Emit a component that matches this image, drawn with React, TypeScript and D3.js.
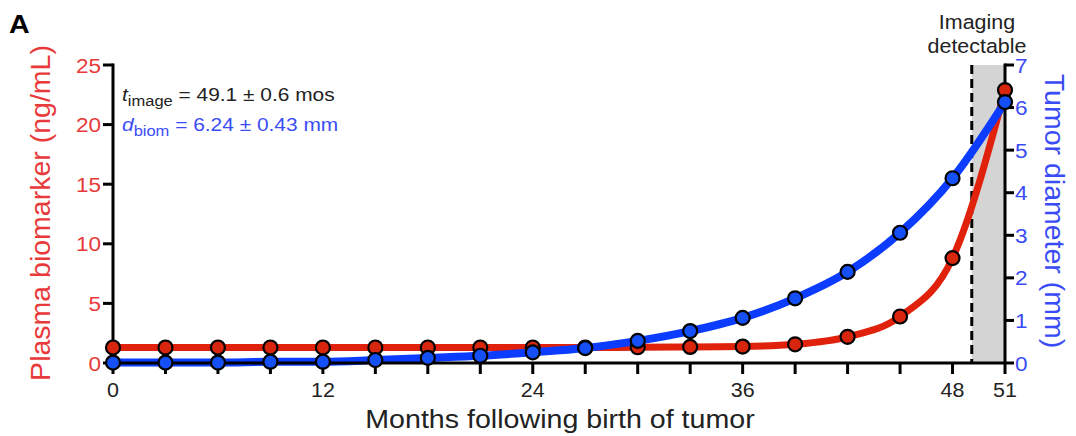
import React from "react";
import * as d3 from "d3";

// Sampling times (months after tumor birth)
const months = [0, 3, 6, 9, 12, 15, 18, 21, 24, 27, 30, 33, 36, 39, 42, 45, 48, 51];
// Plasma biomarker concentration (ng/mL)
const biomarker = [1.3, 1.3, 1.3, 1.3, 1.3, 1.3, 1.3, 1.3, 1.3, 1.3, 1.32, 1.35, 1.38, 1.57, 2.2, 3.9, 8.8, 22.9];
// Tumor diameter (mm)
const diameter = [0.01, 0.01, 0.01, 0.03, 0.03, 0.07, 0.12, 0.17, 0.25, 0.35, 0.52, 0.75, 1.06, 1.52, 2.14, 3.06, 4.34, 6.13];

const xMajorTicks = [0, 12, 24, 36, 48, 51];
const xMinorTicks = [0, 3, 6, 9, 12, 15, 18, 21, 24, 27, 30, 33, 36, 39, 42, 45, 48, 51];
const leftTicks = [0, 5, 10, 15, 20, 25];
const rightTicks = [0, 1, 2, 3, 4, 5, 6, 7];

const tImage = 49.1;

const RED = "#e0220c";
const RED_TEXT = "#e83a3a";
const BLUE = "#0b3cff";
const BLUE_TEXT = "#3a4cf5";
const FONT = "'Liberation Sans', Arial, Helvetica, sans-serif";
const SX = 1.1; // horizontal text stretch

type TProps = {
  x: number;
  y: number;
  size: number;
  fill: string;
  anchor?: "start" | "middle" | "end";
  weight?: string;
  children: React.ReactNode;
};

// Horizontal text, slightly widened around its anchor point
function T({ x, y, size, fill, anchor = "start", weight = "normal", children }: TProps) {
  return (
    <g transform={`translate(${x},${y}) scale(${SX},1)`}>
      <text x={0} y={0} fontSize={size} fill={fill} textAnchor={anchor} fontWeight={weight}>
        {children}
      </text>
    </g>
  );
}

export default function App() {
  const W = 1076;
  const H = 436;
  const x0 = 113;
  const x1 = 1005;
  const yTop = 65;
  const yBot = 363;

  const x = d3.scaleLinear().domain([0, 51]).range([x0, x1]);
  const yL = d3.scaleLinear().domain([0, 25]).range([yBot, yTop]);
  const yR = d3.scaleLinear().domain([0, 7]).range([yBot, yTop]);

  const redLine = d3
    .line<number>()
    .x((_, i) => x(months[i]))
    .y((d) => yL(d))
    .curve(d3.curveMonotoneX)(biomarker) as string;
  const blueLine = d3
    .line<number>()
    .x((_, i) => x(months[i]))
    .y((d) => yR(d))
    .curve(d3.curveMonotoneX)(diameter) as string;

  return (
    <svg
      width={W}
      height={H}
      style={{ position: "absolute", left: 0, top: 0, background: "#fff" }}
      fontFamily={FONT}
    >
      {/* panel letter */}
      <T x={9} y={33} size={26} fill="#000" weight="bold">
        A
      </T>

      {/* imaging-detectable window */}
      <rect x={x(tImage)} y={yTop} width={x1 - x(tImage)} height={yBot - yTop} fill="#d4d4d4" />
      <line
        x1={x(tImage)}
        x2={x(tImage)}
        y1={yTop}
        y2={yBot}
        stroke="#000"
        strokeWidth={3}
        strokeDasharray="9,5"
      />
      <T x={977} y={29} size={19.5} fill="#222" anchor="middle">
        Imaging
      </T>
      <T x={977} y={53} size={19.5} fill="#222" anchor="middle">
        detectable
      </T>

      {/* fitted curves */}
      <path d={redLine} fill="none" stroke={RED} strokeWidth={7} strokeLinecap="round" />
      <path d={blueLine} fill="none" stroke={BLUE} strokeWidth={8} strokeLinecap="round" />

      {/* axes */}
      <g stroke="#000" strokeWidth={3} fill="none">
        <line x1={x0} x2={x0} y1={yTop - 1.5} y2={yBot} />
        <line x1={x1} x2={x1} y1={yTop - 1.5} y2={yBot} />
        <line x1={x0} x2={x1} y1={yBot} y2={yBot} />
        {leftTicks.map((t) => (
          <line key={"l" + t} x1={x0 - 10} x2={x0} y1={yL(t)} y2={yL(t)} />
        ))}
        {rightTicks.map((t) => (
          <line key={"r" + t} x1={x1} x2={x1 + 9} y1={yR(t)} y2={yR(t)} />
        ))}
        {xMinorTicks.map((t) => (
          <line key={"x" + t} x1={x(t)} x2={x(t)} y1={yBot} y2={yBot + 11} />
        ))}
      </g>

      {/* data points */}
      {biomarker.map((v, i) => (
        <circle key={"rp" + i} cx={x(months[i])} cy={yL(v)} r={7} fill="#d8260e" stroke="#000" strokeWidth={2.2} />
      ))}
      {diameter.map((v, i) => (
        <circle key={"bp" + i} cx={x(months[i])} cy={yR(v)} r={7} fill="#1450f5" stroke="#000" strokeWidth={2.2} />
      ))}

      {/* tick labels */}
      {leftTicks.map((t) => (
        <T key={"lt" + t} x={x0 - 12} y={yL(t) + 7.5} size={20.5} fill={RED_TEXT} anchor="end">
          {t}
        </T>
      ))}
      {rightTicks.map((t) => (
        <T key={"rt" + t} x={x1 + 10} y={yR(t) + 7.5} size={20.5} fill={BLUE_TEXT}>
          {t}
        </T>
      ))}
      {xMajorTicks.map((t) => (
        <T key={"xt" + t} x={x(t)} y={397} size={19.5} fill="#222" anchor="middle">
          {t}
        </T>
      ))}

      {/* axis titles */}
      <T x={560} y={428} size={26} fill="#222" anchor="middle">
        Months following birth of tumor
      </T>
      <text
        transform={`translate(50, 213) rotate(-90)`}
        fontSize={28.5}
        fill={RED_TEXT}
        textAnchor="middle"
      >
        Plasma biomarker (ng/mL)
      </text>
      <text
        transform={`translate(1045, 211) rotate(90)`}
        fontSize={28.5}
        fill={BLUE_TEXT}
        textAnchor="middle"
      >
        Tumor diameter (mm)
      </text>

      {/* fit results */}
      <T x={122} y={101} size={19} fill="#222">
        <tspan fontStyle="italic">t</tspan>
        <tspan fontSize={15} dy={5}>image</tspan>
        <tspan dy={-5}> = 49.1 ± 0.6 mos</tspan>
      </T>
      <T x={122} y={131} size={19} fill={BLUE_TEXT}>
        <tspan fontStyle="italic">d</tspan>
        <tspan fontSize={15} dy={5}>biom</tspan>
        <tspan dy={-5}> = 6.24 ± 0.43 mm</tspan>
      </T>
    </svg>
  );
}
